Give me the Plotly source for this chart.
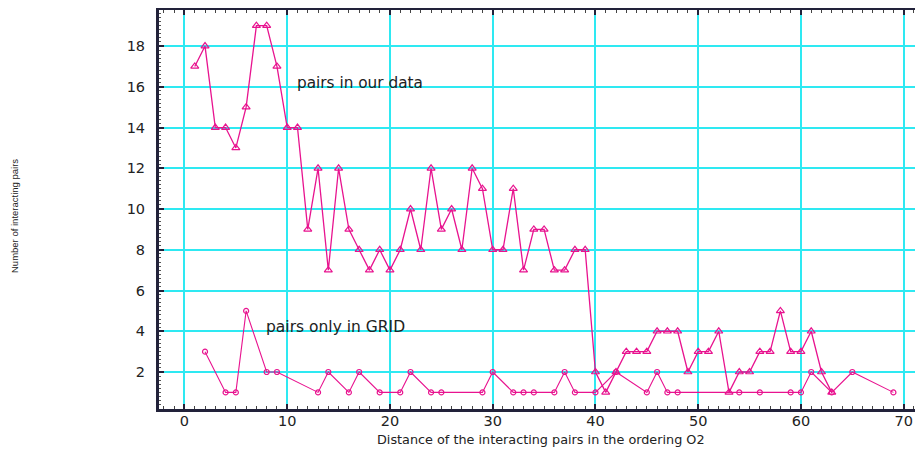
import plotly.graph_objects as go

# "pairs in our data" series
our_x = list(range(1, 64))
our_y = [17, 18, 14, 14, 13, 15, 19, 19, 17, 14,
         14, 9, 12, 7, 12, 9, 8, 7, 8, 7,
         8, 10, 8, 12, 9, 10, 8, 12, 11, 8,
         8, 11, 7, 9, 9, 7, 7, 8, 8, 2,
         1, 2, 3, 3, 3, 4, 4, 4, 2, 3,
         3, 4, 1, 2, 2, 3, 3, 5, 3, 3,
         4, 2, 1]

# "pairs only in GRID" series
grid_x = [2, 4, 5, 6, 8, 9, 13, 14, 16, 17, 19, 21, 22, 24, 25, 29, 30, 32, 33, 34,
          36, 37, 38, 40, 42, 45, 46, 47, 48, 54, 56, 59, 60, 61, 63, 65, 69]
grid_y = [3, 1, 1, 5, 2, 2, 1, 2, 1, 2, 1, 1, 2, 1, 1, 1, 2, 1, 1, 1,
          1, 2, 1, 1, 2, 1, 2, 1, 1, 1, 1, 1, 1, 2, 1, 2, 1]

x_ticks = [0, 10, 20, 30, 40, 50, 60, 70]
y_ticks = [2, 4, 6, 8, 10, 12, 14, 16, 18]

LINE = "#e8138f"
GRID = "#2ee9f2"
AXIS = "#22223a"

# the page places the figure 8px from the top-left corner of the window
OFF = 8
W, H = 923 - OFF, 450 - OFF
ML, MR, MT, MB = 151, 0, 2, 41
PW, PH = W - ML - MR, H - MT - MB


def px_x(p):
    """page pixel x -> paper coordinate"""
    return (p - OFF - ML) / PW


def px_y(p):
    """page pixel y -> paper coordinate"""
    return (H - MB - (p - OFF)) / PH


fig = go.Figure()
fig.add_trace(go.Scatter(
    x=our_x, y=our_y, mode="lines+markers",
    line=dict(color=LINE, width=1.3),
    marker=dict(symbol="triangle-up-open", size=7, color=LINE, line=dict(width=1.2)),
    showlegend=False))
fig.add_trace(go.Scatter(
    x=grid_x, y=grid_y, mode="lines+markers",
    line=dict(color=LINE, width=1.1),
    marker=dict(symbol="circle-open", size=5, color=LINE, line=dict(width=1.2)),
    showlegend=False))

TICKFONT = dict(size=14.5, family="DejaVu Sans, sans-serif", color="#222")

fig.update_layout(
    width=W, height=H,
    margin=dict(l=ML, r=MR, t=MT, b=MB),
    paper_bgcolor="white", plot_bgcolor="white",
    font=dict(family="Liberation Sans, Arial, sans-serif", color="#222"),
    xaxis=dict(
        range=[-2.48, 71.88], tickvals=x_ticks, ticktext=[str(v) for v in x_ticks],
        automargin=False,
        showgrid=True, gridcolor=GRID, gridwidth=1.5, zeroline=False,
        showline=True, linecolor=AXIS, linewidth=3, mirror="ticks",
        ticks="inside", ticklen=5, tickwidth=2, tickcolor=AXIS,
        minor=dict(dtick=1, tick0=0, ticks="inside", ticklen=3, tickwidth=1, tickcolor="#444", showgrid=False),
        tickfont=TICKFONT, ticklabelstandoff=-3,
    ),
    yaxis=dict(
        range=[0.184, 19.77], tickvals=y_ticks, ticktext=[str(v) for v in y_ticks],
        automargin=False,
        showgrid=True, gridcolor=GRID, gridwidth=1.5, zeroline=False,
        showline=True, linecolor=AXIS, linewidth=3, mirror=False,
        ticks="inside", ticklen=5, tickwidth=2, tickcolor=AXIS,
        minor=dict(dtick=0.2, tick0=0, ticks="inside", ticklen=2, tickwidth=1, tickcolor="#555", showgrid=False),
        tickfont=TICKFONT, ticklabelstandoff=8,
    ),
    annotations=[
        dict(x=10.75, y=16.2, xref="x", yref="y", text="pairs in our data", showarrow=False,
             xanchor="left", yanchor="middle",
             font=dict(size=15.3, family="DejaVu Sans, sans-serif", color="#222")),
        dict(x=7.75, y=4.22, xref="x", yref="y", text="pairs only in GRID", showarrow=False,
             xanchor="left", yanchor="middle",
             font=dict(size=15.5, family="DejaVu Sans, sans-serif", color="#222")),
        dict(x=px_x(14), y=px_y(216), xref="paper", yref="paper", text="Number of interacting pairs",
             showarrow=False, textangle=-90, xanchor="center", yanchor="middle",
             font=dict(size=9.5, family="Liberation Sans Narrow, Liberation Sans, sans-serif", color="#222")),
        dict(x=px_x(541), y=px_y(439), xref="paper", yref="paper",
             text="Distance of the interacting pairs in the ordering O2",
             showarrow=False, xanchor="center", yanchor="middle",
             font=dict(size=12.8, family="DejaVu Sans, sans-serif", color="#222")),
    ],
)

fig.write_html("out.html")
